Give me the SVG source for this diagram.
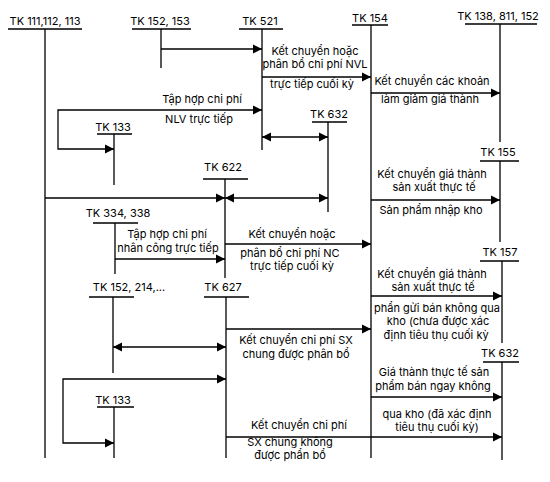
<svg xmlns="http://www.w3.org/2000/svg" width="550" height="482" viewBox="0 0 550 482">
<style>
text{font-family:Inter,"Noto Sans","Liberation Sans",sans-serif;font-size:11px;fill:#000;text-anchor:middle}
.l{stroke:#000;stroke-width:1.3;fill:none}
.a{stroke:#000;stroke-width:1.3;fill:none;marker-end:url(#ah)}
.d{stroke:#000;stroke-width:1.3;fill:none;marker-start:url(#ah);marker-end:url(#ah)}
</style>
<defs>
<marker id="ah" viewBox="0 0 10 10" refX="10" refY="5" markerWidth="9" markerHeight="10" markerUnits="userSpaceOnUse" orient="auto-start-reverse">
<path d="M0,0 L10,5 L0,10 z" fill="#000"/>
</marker>
</defs>
<rect width="550" height="482" fill="#fff"/>

<g id="tk111"><text x="45" y="25">TK 111,112, 113</text><path class="l" d="M8,29H82M45,29V458"/></g>
<g id="tk152a"><text x="160" y="25">TK 152, 153</text><path class="l" d="M132,29H191M161,29V68"/></g>
<g id="tk521"><text x="260" y="25">TK 521</text><path class="l" d="M239,29H283M262,29V150"/></g>
<g id="tk154"><text x="370" y="22">TK 154</text><path class="l" d="M352,25H388M371,25V458"/></g>
<g id="tk138"><text x="498" y="20">TK 138, 811, 152</text><path class="l" d="M465,24H537M500,24V142"/></g>
<g id="tk133a"><text x="113" y="131">TK 133</text><path class="l" d="M97,134H132M114,134V185"/></g>
<g id="tk632a"><text x="329" y="118">TK 632</text><path class="l" d="M312,122H347M328,122V212"/></g>
<g id="tk155"><text x="498" y="156">TK 155</text><path class="l" d="M480,161H519M500,161V242"/></g>
<g id="tk622"><text x="223" y="171">TK 622</text><path class="l" d="M203,179H248M225,179V278"/></g>
<g id="tk334"><text x="118" y="217">TK 334, 338</text><path class="l" d="M93,223H138M115,223V274"/></g>
<g id="tk152b"><text x="129" y="291">TK 152, 214,...</text><path class="l" d="M89,297H134M113,297V373"/></g>
<g id="tk627"><text x="223" y="291">TK 627</text><path class="l" d="M204,297H249M226,297V458"/></g>
<g id="tk157"><text x="500" y="256">TK 157</text><path class="l" d="M480,261H519M502,261V343"/></g>
<g id="tk632b"><text x="500" y="357">TK 632</text><path class="l" d="M483,362H519M502,362V460"/></g>
<g id="tk133b"><text x="113" y="404">TK 133</text><path class="l" d="M97,407H134M114,407V458"/></g>

<g id="connectors">
<path class="a" d="M161,49H262"/>
<path class="a" d="M262,77H371"/>
<path class="a" d="M371,93H500"/>
<path class="d" d="M114,149H58V110H262"/>
<path class="d" d="M262,137H328"/>
<path class="a" d="M45,198H225"/>
<path class="d" d="M225,198H328"/>
<path class="a" d="M371,200H500"/>
<path class="a" d="M115,259H225"/>
<path class="a" d="M225,244H371"/>
<path class="a" d="M371,296H502"/>
<path class="a" d="M226,329H371"/>
<path class="d" d="M113,347H226"/>
<path class="d" d="M114,443H63V379H226"/>
<path class="a" d="M371,397H502"/>
<path class="a" d="M226,437H502"/>
</g>

<g id="labels">
<text x="315" y="55">Kết chuyển hoặc</text>
<text x="315" y="68">phân bổ chi phí NVL</text>
<text x="312" y="88">trực tiếp cuối kỳ</text>
<text x="202" y="103">Tập hợp chi phí</text>
<text x="199" y="123">NLV trực tiếp</text>
<text x="432" y="85">Kết chuyển các khoản</text>
<text x="430" y="103">làm giảm giá thành</text>
<text x="432" y="178">Kết chuyển giá thành</text>
<text x="434" y="191">sản xuất thực tế</text>
<text x="431" y="214">Sản phẩm nhập kho</text>
<text x="167" y="238">Tập hợp chi phí</text>
<text x="168" y="252">nhân công trực tiếp</text>
<text x="292" y="238">Kết chuyển hoặc</text>
<text x="290" y="257">phân bổ chi phí NC</text>
<text x="292" y="270">trực tiếp cuối kỳ</text>
<text x="432" y="278">Kết chuyển giá thành</text>
<text x="433" y="291">sản xuất thực tế</text>
<text x="437" y="312">phẩn gửi bán không qua</text>
<text x="438" y="325">kho (chưa được xác</text>
<text x="436" y="339">định tiêu thụ cuối kỳ</text>
<text x="296" y="344">Kết chuyển chi phí SX</text>
<text x="296" y="358">chung được phân bổ</text>
<text x="434" y="376">Giá thành thực tế sản</text>
<text x="433" y="390">phẩm bán ngay không</text>
<text x="437" y="418">qua kho (đã xác định</text>
<text x="437" y="431">tiêu thụ cuối kỳ)</text>
<text x="299" y="429">Kết chuyển chi phí</text>
<text x="290" y="446">SX chung không</text>
<text x="290" y="459">được phẩn bổ</text>
</g>
</svg>
